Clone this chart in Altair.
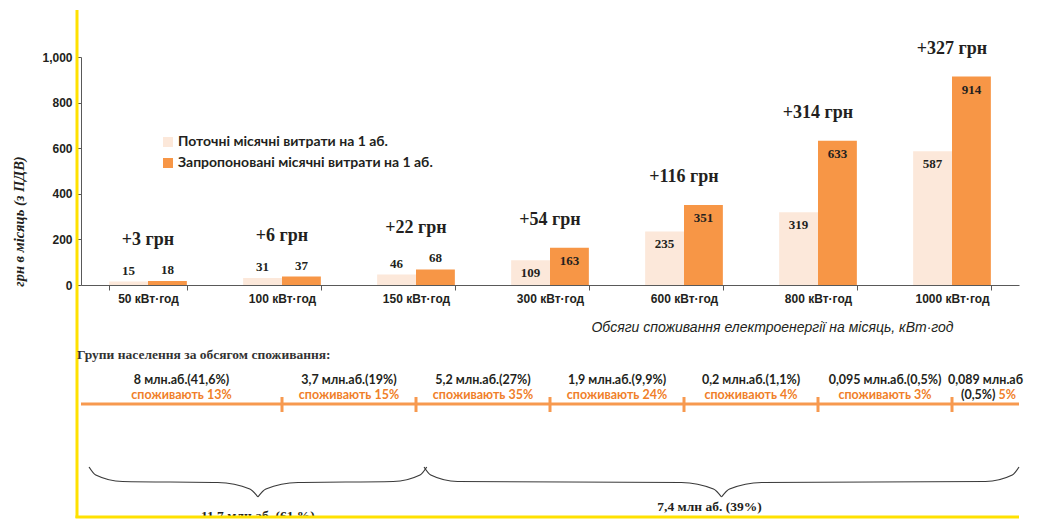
import altair as alt
import pandas as pd

# ---------------- data ----------------
categories = ["50 кВт·год", "100 кВт·год", "150 кВт·год", "300 кВт·год",
              "600 кВт·год", "800 кВт·год", "1000 кВт·год"]
current_cost = [15, 31, 46, 109, 235, 319, 587]
proposed_cost = [18, 37, 68, 163, 351, 633, 914]
series_names = ["Поточні місячні витрати на 1 аб.",
                "Запропоновані місячні витрати на 1 аб."]
y_ticks = [0, 200, 400, 600, 800, 1000]

group_title = "Групи населення за обсягом споживання:"
group_subscribers = ["8", "3,7", "5,2", "1,9", "0,2", "0,095", "0,089"]
group_subscriber_share = ["41,6%", "19%", "27%", "9,9%", "1,1%", "0,5%", "0,5%"]
group_consumption_share = [13, 15, 35, 24, 4, 3, 5]
brace_labels = ["11,7 млн аб. (61 %)", "7,4 млн аб. (39%)"]
brace_groups = [(0, 1), (2, 6)]

y_title = "грн в місяць (з ПДВ)"
x_title = "Обсяги споживання електроенергії на місяць, кВт·год"

# ---------------- styles ----------------
C_CUR = "#FCE8DA"
C_PRO = "#F79646"
C_ORANGE_TXT = "#F07F2A"
C_ORANGE_LINE = "#F7994F"
C_YELLOW = "#FFE100"
C_DARK = "#231F20"
W = 938
H_TOP = 228
H_BOT = 178

# ---------------- top chart ----------------
bars_df = pd.DataFrame({
    "category": categories * 2,
    "series": [series_names[0]] * len(categories) + [series_names[1]] * len(categories),
    "value": current_cost + proposed_cost,
})
delta_df = pd.DataFrame({
    "category": categories,
    "proposed": proposed_cost,
    "label": ["+%d грн" % (p - c) for p, c in zip(proposed_cost, current_cost)],
})

x_enc = alt.X("category:N", sort=categories,
              scale=alt.Scale(paddingInner=0.42, paddingOuter=0.21),
              axis=alt.Axis(title=x_title, labelAngle=0, tickBand="extent",
                            tickSize=5, labelPadding=3,
                            labelFont="Liberation Sans", labelFontWeight="bold",
                            labelFontSize=12, labelColor=C_DARK,
                            domainColor="#595959", tickColor="#595959",
                            titleFont="Liberation Sans", titleFontStyle="italic",
                            titleFontWeight="normal", titleFontSize=14,
                            titleColor=C_DARK, titleX=691, titleY=42,
                            titleBaseline="middle", titleAlign="center"))
y_scale = alt.Scale(domain=[0, 1000], nice=False)
y_enc = alt.Y("value:Q", scale=y_scale,
              axis=alt.Axis(values=y_ticks, format=",d", grid=False, tickSize=5,
                            labelPadding=4, labelFont="Liberation Sans",
                            labelFontWeight="bold", labelFontSize=12,
                            labelColor=C_DARK, domainColor="#595959",
                            tickColor="#595959", title=y_title,
                            titleFont="Liberation Serif", titleFontStyle="italic",
                            titleFontWeight="bold", titleFontSize=14.5,
                            titleColor=C_DARK, titleX=-62, titleY=164,
                            titleBaseline="middle", titleAlign="center"))
xoff = alt.XOffset("series:N", sort=series_names,
                   scale=alt.Scale(paddingInner=0, paddingOuter=0))
color = alt.Color("series:N", sort=series_names,
                  scale=alt.Scale(domain=series_names, range=[C_CUR, C_PRO]),
                  legend=alt.Legend(title=None, orient="none", legendX=80, legendY=78,
                                    symbolType="square", symbolSize=100,
                                    symbolStrokeWidth=0, labelFont="Lato",
                                    labelFontWeight="bold", labelFontSize=14,
                                    labelColor=C_DARK, rowPadding=7,
                                    labelOffset=3, labelLimit=400))

bars = alt.Chart(bars_df).mark_bar().encode(x=x_enc, y=y_enc, xOffset=xoff, color=color)

val_style = dict(font="Liberation Serif", fontWeight="bold", fontSize=13,
                 color=C_DARK, baseline="middle")
lbl_hi = alt.Chart(bars_df).transform_filter("datum.value >= 100").mark_text(
    dy=13, **val_style).encode(x=x_enc, y=y_enc, xOffset=xoff, text="value:Q")
lbl_lo = alt.Chart(bars_df).transform_filter("datum.value < 100").mark_text(
    dy=-11, **val_style).encode(x=x_enc, y=y_enc, xOffset=xoff, text="value:Q")

d_style = dict(font="Liberation Serif", fontWeight="bold", fontSize=18,
               color=C_DARK, baseline="middle")
d_y = alt.Y("proposed:Q", scale=y_scale)
d_lo = alt.Chart(delta_df).transform_filter("datum.proposed < 100").mark_text(
    dy=-41, **d_style).encode(x=alt.X("category:N", sort=categories), y=d_y, text="label:N")
d_hi = alt.Chart(delta_df).transform_filter("datum.proposed >= 100").mark_text(
    dy=-28, **d_style).encode(x=alt.X("category:N", sort=categories), y=d_y, text="label:N")

one = pd.DataFrame({"k": [0]})
yellow_v = alt.Chart(one).mark_rule(color=C_YELLOW, strokeWidth=3).encode(
    x=alt.value(-4), y=alt.value(-47), y2=alt.value(H_TOP + 55 + H_BOT))

top = alt.layer(bars, lbl_hi, lbl_lo, d_lo, d_hi, yellow_v).properties(width=W, height=H_TOP)

# ---------------- bottom chart ----------------
n = len(categories)
bounds = [0.0] + [i + 0.5 for i in range(1, n)] + [float(n)]
mids = [(a + b) / 2 for a, b in zip(bounds[:-1], bounds[1:])]
line1 = ["%s млн.аб.(%s)" % (m, s) for m, s in zip(group_subscribers, group_subscriber_share)]
line1[-1] = "%s млн.аб" % group_subscribers[-1]
line2 = ["споживають %d%%" % c for c in group_consumption_share]

grp_df = pd.DataFrame({"pos": mids, "line1": line1, "line2": line2})
xs = alt.Scale(domain=[0, n], nice=False, zero=False)
xq = lambda f: alt.X(f, scale=xs, axis=None)

g_font = dict(font="Lato", fontWeight="bold", fontSize=12.5, baseline="middle")
t_line1 = alt.Chart(grp_df).mark_text(color=C_DARK, **g_font).encode(
    x=xq("pos:Q"), y=alt.value(40), text="line1:N")
t_line2 = alt.Chart(grp_df.iloc[:-1]).mark_text(color=C_ORANGE_TXT, **g_font).encode(
    x=xq("pos:Q"), y=alt.value(55), text="line2:N")
last_df = pd.DataFrame({"pos": [mids[-1]], "a": ["(%s)" % group_subscriber_share[-1]],
                        "b": ["%d%%" % group_consumption_share[-1]]})
t_last_a = alt.Chart(last_df).mark_text(color=C_DARK, align="right", dx=10, **g_font).encode(
    x=xq("pos:Q"), y=alt.value(55), text="a:N")
t_last_b = alt.Chart(last_df).mark_text(color=C_ORANGE_TXT, align="left", dx=13, **g_font).encode(
    x=xq("pos:Q"), y=alt.value(55), text="b:N")

title_df = pd.DataFrame({"t": [group_title]})
t_title = alt.Chart(title_df).mark_text(font="Liberation Serif", fontWeight="bold",
                                        fontSize=13.5, color="#333333", align="left",
                                        baseline="middle").encode(
    x=alt.value(-4), y=alt.value(15), text="t:N")

seg_df = pd.DataFrame({"x0": [bounds[0]], "x1": [bounds[-1]]})
o_line = alt.Chart(seg_df).mark_rule(color=C_ORANGE_LINE, strokeWidth=3).encode(
    x=xq("x0:Q"), x2="x1:Q", y=alt.value(64))
tick_df = pd.DataFrame({"pos": bounds[1:-1]})
o_ticks = alt.Chart(tick_df).mark_rule(color=C_ORANGE_LINE, strokeWidth=3).encode(
    x=xq("pos:Q"), y=alt.value(57), y2=alt.value(72))

# braces
rows = []
brace_mid = []
for bi, (g0, g1) in enumerate(brace_groups):
    a = bounds[g0] + 0.06
    b = min(bounds[g1 + 1] + 0.08, float(n))
    m = (a + b) / 2
    brace_mid.append(m)
    left = [(a, 127), (a + 0.05, 135), (a + 0.25, 141.5), (m - 0.3, 142.5), (m - 0.06, 149), (m, 157)]
    for (px, py) in left:
        rows.append({"bx": px, "by": py, "part": "%d-L" % bi})
        rows.append({"bx": a + b - px, "by": py, "part": "%d-R" % bi})
brace_df = pd.DataFrame(rows)
braces = alt.Chart(brace_df).mark_line(interpolate="monotone", color="#3A3A3A",
                                       strokeWidth=1.2).encode(
    x=xq("bx:Q"),
    y=alt.Y("by:Q", scale=alt.Scale(domain=[0, H_BOT], reverse=True, nice=False, zero=False), axis=None),
    detail="part:N", order="bx:Q")

b_style = dict(font="Liberation Serif", fontWeight="bold", fontSize=13.5,
               color=C_DARK, baseline="middle")
bl_df = pd.DataFrame({"pos": brace_mid, "label": brace_labels})
b_lab2 = alt.Chart(bl_df.iloc[1:]).mark_text(dx=-12, **b_style).encode(
    x=xq("pos:Q"), y=alt.value(167), text="label:N")
b_lab1 = alt.Chart(bl_df.iloc[:1]).mark_text(clip=True, **b_style).encode(
    x=xq("pos:Q"), y=alt.value(176), text="label:N")

yellow_h = alt.Chart(one).mark_rule(color=C_YELLOW, strokeWidth=3).encode(
    x=alt.value(-5.5), x2=alt.value(938), y=alt.value(H_BOT - 1))

bottom = alt.layer(t_title, t_line1, t_line2, t_last_a, t_last_b, o_line, o_ticks,
                   braces, b_lab2, b_lab1, yellow_h).properties(width=W, height=H_BOT)

chart = alt.vconcat(top, bottom, spacing=55, bounds="flush").properties(
    padding={"left": 3, "top": 0, "right": 2, "bottom": 0}
).configure(font="Liberation Sans").configure_view(stroke=None)

chart.save("out.html", embed_options={"renderer": "svg", "actions": False})
